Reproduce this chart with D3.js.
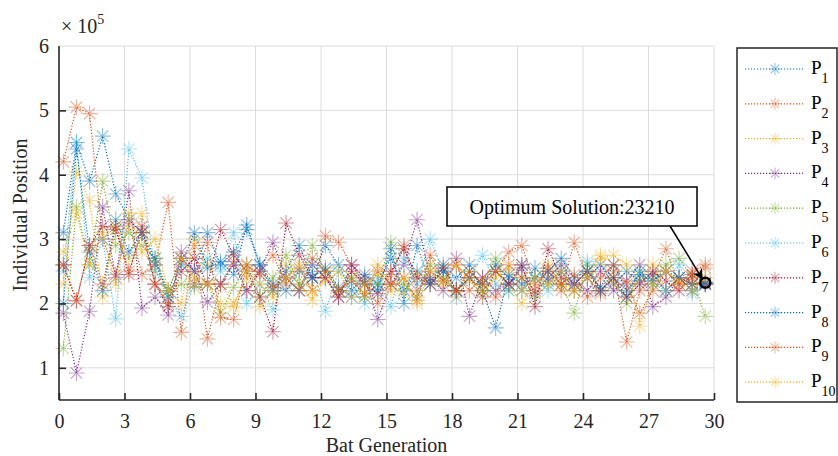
<!DOCTYPE html>
<html>
<head>
<meta charset="utf-8">
<script src="https://cdn.jsdelivr.net/npm/d3@7"></script>
<style>
  body { margin: 0; background: #fff; }
  svg { font-family: "Liberation Serif", "Times New Roman", serif; }
  .grid line { stroke: #dcdcdc; stroke-width: 1; }
</style>
</head>
<body>
<svg id="chart" width="838" height="456"></svg>
<script>
// Bat generation (x) for each sample
const generations = [0.2, 0.8, 1.4, 2.0, 2.6, 3.2, 3.8, 4.4, 5.0, 5.6,
  6.2, 6.8, 7.4, 8.0, 8.6, 9.2, 9.8, 10.4, 11.0, 11.6,
  12.2, 12.8, 13.4, 14.0, 14.6, 15.2, 15.8, 16.4, 17.0, 17.6,
  18.2, 18.8, 19.4, 20.0, 20.6, 21.2, 21.8, 22.4, 23.0, 23.6,
  24.2, 24.8, 25.4, 26.0, 26.6, 27.2, 27.8, 28.4, 29.0, 29.6];

// Individual positions (x 10^5)
const p1 = [3.1, 4.5, 3.9, 4.6, 3.7, 3.3, 3.1, 2.6, 2.2, 2.7, 2.5, 3.1, 2.6, 2.8, 3.15, 2.6, 2.3, 2.2, 2.5, 2.4,
  2.9, 2.6, 2.2, 2.45, 2.3, 2.7, 2.2, 2.5, 2.35, 2.6, 2.2, 2.4, 2.3, 2.6, 2.4, 2.2, 2.55, 2.35, 2.5, 2.2,
  2.4, 2.6, 2.3, 2.5, 2.35, 2.45, 2.2, 2.4, 2.3, 2.32];
const p2 = [4.2, 5.05, 4.95, 3.0, 2.45, 3.25, 2.45, 2.6, 3.57, 1.55, 2.9, 1.45, 2.3, 2.65, 2.2, 2.5, 2.75, 2.3, 2.55, 2.2,
  3.05, 2.95, 2.6, 2.3, 2.0, 2.45, 2.9, 2.2, 2.5, 2.35, 2.6, 2.2, 2.4, 2.5, 2.8, 2.9, 2.3, 2.5, 2.2, 2.95,
  2.4, 2.15, 2.5, 1.4, 2.2, 2.4, 2.85, 2.3, 2.5, 2.6];
const p3 = [2.3, 4.05, 3.6, 2.1, 3.2, 2.7, 3.4, 2.5, 2.2, 2.0, 3.0, 2.6, 2.3, 2.0, 2.4, 1.95, 2.2, 2.6, 2.3, 2.05,
  2.5, 2.2, 2.4, 2.1, 2.6, 2.3, 2.15, 2.45, 2.3, 2.55, 2.1, 2.4, 2.2, 2.5, 2.3, 2.0, 2.4, 2.6, 2.3, 2.2,
  2.5, 2.75, 2.3, 2.1, 2.4, 2.6, 2.2, 2.4, 2.3, 2.35];
const p4 = [1.85, 0.92, 1.88, 3.5, 2.4, 3.75, 1.93, 2.1, 1.82, 2.8, 2.5, 2.02, 2.3, 2.6, 2.2, 2.5, 2.95, 2.4, 2.2, 2.6,
  2.4, 2.1, 2.6, 2.4, 1.75, 2.3, 2.6, 3.3, 2.4, 2.2, 2.7, 1.8, 2.4, 2.2, 2.3, 2.55, 2.15, 2.4, 2.6, 2.3,
  2.2, 2.5, 2.2, 2.35, 2.6, 1.95, 2.1, 2.4, 2.3, 2.3];
const p5 = [1.3, 3.5, 2.6, 3.9, 2.9, 3.1, 2.9, 2.7, 2.2, 2.3, 2.25, 2.3, 1.85, 2.25, 2.6, 2.1, 2.4, 2.75, 2.3, 2.9,
  2.5, 2.2, 2.4, 2.1, 2.3, 2.95, 2.3, 2.1, 2.6, 2.4, 2.2, 2.5, 2.3, 2.7, 2.2, 2.4, 2.1, 2.3, 2.3, 1.85,
  2.6, 2.2, 2.4, 2.0, 2.5, 2.3, 2.6, 2.7, 2.4, 1.8];
const p6 = [2.5, 4.5, 2.4, 3.0, 1.76, 4.4, 3.95, 2.5, 2.1, 1.8, 2.3, 2.7, 2.5, 3.1, 2.0, 2.3, 1.9, 2.4, 2.2, 2.6,
  1.88, 2.5, 2.3, 2.0, 2.4, 1.95, 2.7, 2.3, 3.0, 2.5, 2.1, 2.4, 2.75, 2.3, 2.2, 2.6, 2.4, 2.2, 2.5, 2.3,
  2.65, 2.2, 2.4, 2.1, 2.5, 2.3, 2.2, 2.6, 2.15, 2.3];
const p7 = [2.6, 2.04, 2.9, 3.2, 3.15, 2.45, 3.2, 2.3, 1.95, 2.5, 2.7, 2.3, 3.15, 2.75, 2.5, 2.1, 1.56, 3.25, 2.75, 2.4,
  2.4, 2.1, 2.5, 2.3, 2.15, 2.5, 2.85, 2.4, 2.3, 2.55, 2.2, 2.4, 2.1, 2.5, 2.3, 2.6, 1.95, 2.85, 2.4, 2.3,
  2.5, 2.2, 2.4, 2.1, 2.3, 2.5, 2.35, 2.2, 2.45, 2.3];
const p8 = [2.0, 4.4, 2.8, 2.2, 3.3, 2.8, 3.1, 2.7, 2.1, 2.6, 3.1, 2.55, 2.65, 2.45, 3.22, 2.6, 2.2, 2.5, 2.9, 2.4,
  2.55, 2.25, 2.1, 2.35, 2.2, 2.85, 2.0, 2.9, 2.3, 2.5, 2.4, 2.6, 2.2, 1.62, 2.45, 2.3, 2.4, 2.5, 2.7, 2.4,
  2.5, 2.25, 2.6, 2.2, 2.45, 2.35, 2.5, 2.4, 2.2, 2.32];
const p9 = [2.6, 2.05, 2.9, 2.3, 3.2, 2.5, 3.1, 2.3, 2.0, 2.7, 2.3, 2.95, 1.78, 1.75, 2.6, 2.45, 2.25, 2.4, 2.2, 2.7,
  2.5, 2.2, 2.35, 2.15, 2.5, 2.3, 2.4, 2.05, 2.75, 2.35, 2.2, 2.5, 2.3, 2.1, 2.6, 2.4, 2.2, 2.55, 2.3, 2.45,
  2.1, 2.4, 2.6, 2.3, 1.85, 2.2, 2.5, 2.3, 2.4, 2.55];
const p10 = [2.8, 3.4, 2.6, 3.1, 2.3, 3.4, 2.8, 3.0, 2.2, 2.7, 2.4, 2.3, 2.0, 1.95, 2.5, 2.3, 2.1, 2.4, 2.6, 2.2,
  2.35, 2.5, 2.1, 2.3, 2.45, 2.2, 2.4, 2.0, 2.5, 2.3, 2.6, 2.35, 2.15, 2.4, 2.55, 2.2, 2.4, 2.3, 2.5, 2.2,
  2.4, 2.7, 2.75, 2.6, 1.65, 2.3, 2.5, 2.35, 2.2, 2.4];

const seriesNames = ['1', '2', '3', '4', '5', '6', '7', '8', '9', '10'];
const seriesValues = [p1, p2, p3, p4, p5, p6, p7, p8, p9, p10];
const seriesColors = ['#0072BD', '#D95319', '#EDB120', '#7E2F8E', '#77AC30',
  '#4DBEEE', '#A2142F', '#0072BD', '#D95319', '#EDB120'];

const xTicks = [0, 3, 6, 9, 12, 15, 18, 21, 24, 27, 30];
const yTicks = [1, 2, 3, 4, 5, 6];
const optimum = { gen: 29.6, value: 2.321, label: 'Optimum Solution:23210' };

const svg = d3.select('#chart');
const plotLeft = 59, plotRight = 714, plotTop = 46, plotBottom = 400;

const x = d3.scaleLinear().domain([0, 30]).range([plotLeft, plotRight]);
const y = d3.scaleLinear().domain([0.5, 6]).range([plotBottom, plotTop]);

// grid
const grid = svg.append('g').attr('class', 'grid');
xTicks.slice(1).forEach(t => {
  grid.append('line').attr('x1', x(t)).attr('x2', x(t)).attr('y1', plotTop).attr('y2', plotBottom);
});
yTicks.forEach(t => {
  grid.append('line').attr('x1', plotLeft).attr('x2', plotRight).attr('y1', y(t)).attr('y2', y(t));
});

// star marker (MATLAB '*')
function star(g, cx, cy, r, color, op) {
  const d = r * 0.7071;
  const path = `M${cx - r},${cy}L${cx + r},${cy}M${cx},${cy - r}L${cx},${cy + r}` +
    `M${cx - d},${cy - d}L${cx + d},${cy + d}M${cx - d},${cy + d}L${cx + d},${cy - d}`;
  g.append('path').attr('d', path).attr('stroke', color).attr('stroke-width', 1.1)
    .attr('fill', 'none').attr('opacity', op);
}

const line = d3.line().x((d, i) => x(generations[i])).y(d => y(d));
const plot = svg.append('g');
seriesValues.forEach((vals, s) => {
  const g = plot.append('g');
  g.append('path')
    .datum(vals)
    .attr('d', line)
    .attr('fill', 'none')
    .attr('stroke', seriesColors[s])
    .attr('stroke-width', 1.2)
    .attr('stroke-dasharray', '1.2,1.8');
  vals.forEach((v, i) => star(g, x(generations[i]), y(v), 8, seriesColors[s], 0.45));
});

// axes
const xAxis = d3.axisBottom(x).tickValues(xTicks).tickSize(-7).tickPadding(14).tickFormat(d3.format('d'));
const yAxis = d3.axisLeft(y).tickValues(yTicks).tickSize(-7).tickPadding(10).tickFormat(d3.format('d'));
const gx = svg.append('g').attr('transform', `translate(0,${plotBottom})`).call(xAxis);
const gy = svg.append('g').attr('transform', `translate(${plotLeft},0)`).call(yAxis);
[gx, gy].forEach(g => {
  g.select('.domain').attr('stroke', '#262626').attr('stroke-width', 1.6);
  g.selectAll('.tick line').attr('stroke', '#262626').attr('stroke-width', 1.6);
  g.selectAll('.tick text').attr('fill', '#262626')
    .style('font-family', '"Liberation Serif", serif').style('font-size', '20px');
});
gx.select('.domain').attr('d', `M${plotLeft},0H${plotRight}`);
gy.select('.domain').attr('d', `M0,${plotBottom}V${plotTop}`);
gy.selectAll('.tick').filter(d => d === 6).select('line').remove();

// axis labels
svg.append('text').attr('x', (plotLeft + plotRight) / 2).attr('y', 452)
  .attr('text-anchor', 'middle').attr('font-size', 20).attr('fill', '#262626')
  .text('Bat Generation');
svg.append('text').attr('transform', 'translate(27,215) rotate(-90)')
  .attr('text-anchor', 'middle').attr('font-size', 20).attr('fill', '#262626')
  .text('Individual Position');

const exp = svg.append('text').attr('x', 61).attr('y', 33).attr('font-size', 20).attr('fill', '#262626');
exp.append('tspan').text('\u00d7 10');
exp.append('tspan').attr('dy', -9).attr('font-size', 14).text('5');

// annotation
const ox = x(optimum.gen), oy = y(optimum.value);
svg.append('defs').append('marker')
  .attr('id', 'arrow').attr('viewBox', '0 0 10 10').attr('refX', 9).attr('refY', 5)
  .attr('markerWidth', 7).attr('markerHeight', 7).attr('orient', 'auto-start-reverse')
  .append('path').attr('d', 'M0,0L10,5L0,10L3,5Z').attr('fill', '#000');
svg.append('line').attr('x1', 670).attr('y1', 226).attr('x2', ox - 3).attr('y2', oy - 4)
  .attr('stroke', '#000').attr('stroke-width', 1.5).attr('marker-end', 'url(#arrow)');
svg.append('circle').attr('cx', ox).attr('cy', oy).attr('r', 5)
  .attr('fill', 'none').attr('stroke', '#000').attr('stroke-width', 2.5);
svg.append('rect').attr('x', 447).attr('y', 187).attr('width', 250).attr('height', 39)
  .attr('fill', '#fff').attr('stroke', '#000').attr('stroke-width', 1.5);
svg.append('text').attr('x', 572).attr('y', 214).attr('text-anchor', 'middle')
  .attr('font-size', 20).attr('fill', '#000').text(optimum.label);

// legend
const legend = svg.append('g');
legend.append('rect').attr('x', 737).attr('y', 48).attr('width', 100).attr('height', 354)
  .attr('fill', '#fff').attr('stroke', '#262626').attr('stroke-width', 1.5);
seriesNames.forEach((name, i) => {
  const ly = 69 + i * 34.8;
  legend.append('line').attr('x1', 745).attr('x2', 805).attr('y1', ly).attr('y2', ly)
    .attr('stroke', seriesColors[i]).attr('stroke-width', 1.2).attr('stroke-dasharray', '1.2,1.8');
  star(legend, 775, ly, 6, seriesColors[i], 0.4);
  const t = legend.append('text').attr('x', 811).attr('y', ly + 5).attr('font-size', 19).attr('fill', '#000');
  t.append('tspan').text('P');
  t.append('tspan').attr('dy', 9).attr('font-size', 14).text(name);
});
</script>
</body>
</html>
